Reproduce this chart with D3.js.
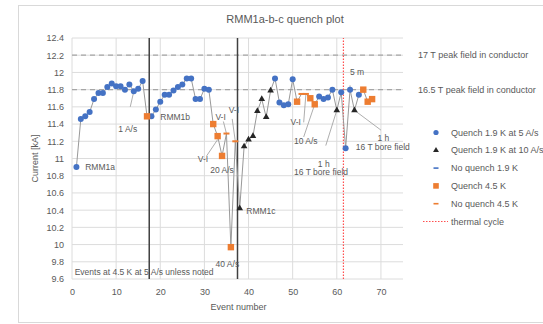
<!DOCTYPE html>
<html>
<head>
<meta charset="utf-8">
<script src="https://cdn.jsdelivr.net/npm/d3@7"></script>
<style>
	body { margin: 0; background: #fff; }
	text { font-family: "Liberation Sans", Arial, sans-serif; fill: #595959; }
</style>
</head>
<body>
<div id="chart"></div>
<script>
// values: [event number, current kA]
var quench19at5 = [
	[1, 10.90], [2, 11.46], [3, 11.49], [4, 11.54], [5, 11.69], [6, 11.76], [7, 11.76], [8, 11.83],
	[9, 11.87], [10, 11.84], [11, 11.84], [12, 11.80], [13, 11.86], [14, 11.78], [15, 11.81], [16, 11.90],
	[18, 11.49], [19, 11.57], [20, 11.66], [21, 11.74], [22, 11.74], [23, 11.79], [24, 11.83], [25, 11.86],
	[26, 11.93], [27, 11.93], [28, 11.69], [29, 11.69], [30, 11.81], [31, 11.80],
	[46, 11.93], [47, 11.65], [48, 11.62], [49, 11.63], [50, 11.92],
	[56, 11.72], [57, 11.69], [58, 11.71], [59, 11.80], [61, 11.77], [62, 11.12], [63, 11.80], [65, 11.74]
];
var quench19at10 = [
	[38, 10.42], [39, 11.14], [40, 11.22], [41, 11.26], [42, 11.55], [43, 11.69], [44, 11.48], [45, 11.79],
	[60, 11.56], [64, 11.56]
];
var noQuench19 = [];
var quench45 = [
	[17, 11.49], [32, 11.40], [33, 11.26], [34, 11.03], [36, 9.97], [51, 11.66], [54, 11.70], [55, 11.63],
	[66, 11.80], [67, 11.66], [68, 11.69]
];
var noQuench45 = [[35, 11.29], [37, 11.20], [52, 11.75], [53, 11.75]];

var magnetChanges = [17.5, 37.5];
var thermalCycles = [61.5];
var fieldLines = [12.2, 11.8];
var fieldLabels = ["17 T peak field in conductor", "16.5 T peak field in conductor"];
var xTicks = [0, 10, 20, 30, 40, 50, 60, 70];
var yTicks = [9.6, 9.8, 10, 10.2, 10.4, 10.6, 10.8, 11, 11.2, 11.4, 11.6, 11.8, 12, 12.2, 12.4];

var blue = "#4472c4", orange = "#ed7d31", dark = "#262626", red = "#ff4f4f";

var width = 543, height = 324;
var margin = {left: 72, right: 140, top: 38, bottom: 45};

var svg = d3.select("#chart").append("svg")
	.attr("width", width)
	.attr("height", height);

// chart border
svg.append("rect")
	.attr("x", 18.5).attr("y", 5.5)
	.attr("width", 530).attr("height", 317)
	.attr("fill", "none").attr("stroke", "#d9d9d9");

var x = d3.scaleLinear().domain([0, 75]).range([margin.left, width - margin.right]);
var y = d3.scaleLinear().domain([9.6, 12.4]).range([height - margin.bottom, margin.top]);

// gridlines
svg.append("g").selectAll("line").data(yTicks).enter().append("line")
	.attr("x1", x(0)).attr("x2", x(75))
	.attr("y1", function (d) { return y(d); }).attr("y2", function (d) { return y(d); })
	.attr("stroke", "#dcdcdc").attr("stroke-width", 1);
svg.append("g").selectAll("line").data(xTicks).enter().append("line")
	.attr("x1", function (d) { return x(d); }).attr("x2", function (d) { return x(d); })
	.attr("y1", y(9.6)).attr("y2", y(12.4))
	.attr("stroke", "#dcdcdc").attr("stroke-width", 1);

// axes (labels only)
var xAxis = svg.append("g")
	.attr("transform", "translate(0," + (y(9.6) + 4) + ")")
	.call(d3.axisBottom(x).tickValues(xTicks).tickSize(0).tickPadding(6));
var yAxis = svg.append("g")
	.attr("transform", "translate(" + (x(0) - 8) + ",0)")
	.call(d3.axisLeft(y).tickValues(yTicks).tickSize(0).tickPadding(0).tickFormat(d3.format("")));
[xAxis, yAxis].forEach(function (a) {
	a.select(".domain").remove();
	a.selectAll("text").style("font-size", "9px").style("fill", "#595959")
		.style("font-family", "Liberation Sans, Arial, sans-serif");
});

// peak field dashed lines
svg.append("g").selectAll("line").data(fieldLines).enter().append("line")
	.attr("x1", x(0)).attr("x2", x(75))
	.attr("y1", function (d) { return y(d); }).attr("y2", function (d) { return y(d); })
	.attr("stroke", "#a6a6a6").attr("stroke-width", 1.3).attr("stroke-dasharray", "5,4");
svg.append("g").selectAll("text").data(fieldLines).enter().append("text")
	.attr("x", 418).attr("y", function (d) { return y(d) + 3; })
	.style("font-size", "9px")
	.text(function (d, i) { return fieldLabels[i]; });

// magnet changes and thermal cycle
svg.append("g").selectAll("line").data(magnetChanges).enter().append("line")
	.attr("x1", function (d) { return x(d); }).attr("x2", function (d) { return x(d); })
	.attr("y1", y(9.6)).attr("y2", y(12.4))
	.attr("stroke", "#404040").attr("stroke-width", 1.5);
svg.append("g").selectAll("line").data(thermalCycles).enter().append("line")
	.attr("x1", function (d) { return x(d); }).attr("x2", function (d) { return x(d); })
	.attr("y1", y(9.6)).attr("y2", y(12.4))
	.attr("stroke", red).attr("stroke-width", 1.2).attr("stroke-dasharray", "1.5,1.5");

// grey line joining all events in order
var all = quench19at5.concat(quench19at10, noQuench19, quench45, noQuench45)
	.sort(function (a, b) { return a[0] - b[0]; });
var line = d3.line()
	.x(function (d) { return x(d[0]); })
	.y(function (d) { return y(d[1]); });
svg.append("path").datum(all)
	.attr("d", line)
	.attr("fill", "none").attr("stroke", "#999999").attr("stroke-width", 1);

// annotation leader lines and texts
var leaders = [
	[[13.2, 11.6], [14, 11.78]],
	[[34.3, 11.43], [35, 11.29]],
	[[36.3, 11.46], [37, 11.20]],
	[[30.5, 11.03], [33, 11.22]],
	[[52.5, 11.42], [53, 11.75]],
	[[52.5, 11.25], [55, 11.63]],
	[[57.5, 11.15], [60, 11.56]],
	[[63, 11.85], [63, 11.80]],
	[[70, 11.33], [64, 11.56]]
];
svg.append("g").selectAll("line").data(leaders).enter().append("line")
	.attr("x1", function (d) { return x(d[0][0]); }).attr("y1", function (d) { return y(d[0][1]); })
	.attr("x2", function (d) { return x(d[1][0]); }).attr("y2", function (d) { return y(d[1][1]); })
	.attr("stroke", "#999999").attr("stroke-width", 0.8);

var notes = [
	["RMM1a", 3, 10.9, "start"],
	["1 A/s", 10.5, 11.34, "start"],
	["RMM1b", 20, 11.48, "start"],
	["V-I", 32.5, 11.48, "start"],
	["V-I", 35.5, 11.56, "start"],
	["V-I", 28.5, 11.0, "start"],
	["20 A/s", 34, 10.87, "middle"],
	["40 A/s", 35.2, 9.78, "middle"],
	["RMM1c", 39.5, 10.39, "start"],
	["V-I", 49.5, 11.42, "start"],
	["10 A/s", 50.3, 11.2, "start"],
	["1 h", 55.7, 10.94, "start"],
	["16 T bore field", 50.3, 10.84, "start"],
	["5 m", 63, 12.0, "start"],
	["1 h", 69.2, 11.24, "start"],
	["16 T bore field", 64.3, 11.13, "start"],
	["Events at 4.5 K at 5 A/s unless noted", 0.6, 9.68, "start"]
];
svg.append("g").selectAll("text").data(notes).enter().append("text")
	.attr("x", function (d) { return x(d[1]); })
	.attr("y", function (d) { return y(d[2]) + 3; })
	.attr("text-anchor", function (d) { return d[3]; })
	.style("font-size", "8.5px")
	.text(function (d) { return d[0]; });

// markers
var tri = d3.symbol().type(d3.symbolTriangle).size(19);
svg.append("g").selectAll("circle").data(quench19at5).enter().append("circle")
	.attr("cx", function (d) { return x(d[0]); }).attr("cy", function (d) { return y(d[1]); })
	.attr("r", 3).attr("fill", blue);
svg.append("g").selectAll("path").data(quench19at10).enter().append("path")
	.attr("d", tri)
	.attr("transform", function (d) { return "translate(" + x(d[0]) + "," + y(d[1]) + ")"; })
	.attr("fill", dark);
svg.append("g").selectAll("rect").data(quench45).enter().append("rect")
	.attr("x", function (d) { return x(d[0]) - 3.2; }).attr("y", function (d) { return y(d[1]) - 3.2; })
	.attr("width", 6.4).attr("height", 6.4).attr("fill", orange);
svg.append("g").selectAll("rect").data(noQuench19).enter().append("rect")
	.attr("x", function (d) { return x(d[0]) - 3; }).attr("y", function (d) { return y(d[1]) - 1; })
	.attr("width", 6).attr("height", 2).attr("fill", blue);
svg.append("g").selectAll("rect").data(noQuench45).enter().append("rect")
	.attr("x", function (d) { return x(d[0]) - 3; }).attr("y", function (d) { return y(d[1]) - 1; })
	.attr("width", 6).attr("height", 2).attr("fill", orange);

// title and axis titles
svg.append("text").attr("x", 285).attr("y", 23).attr("text-anchor", "middle")
	.style("font-size", "11px").text("RMM1a-b-c quench plot");
svg.append("text").attr("x", x(37.5) + 1).attr("y", 310).attr("text-anchor", "middle")
	.style("font-size", "9px").text("Event number");
svg.append("text")
	.attr("transform", "translate(38," + ((y(9.6) + y(12.4)) / 2) + ") rotate(-90)")
	.attr("text-anchor", "middle")
	.style("font-size", "9px").text("Current [kA]");

// legend
var legendItems = ["Quench 1.9 K at 5 A/s", "Quench 1.9 K at 10 A/s", "No quench 1.9 K", "Quench 4.5 K", "No quench 4.5 K", "thermal cycle"];
var legend = svg.append("g").selectAll("g").data(legendItems).enter().append("g")
	.attr("transform", function (d, i) { return "translate(436," + (132.5 + i * 17.8) + ")"; });
legend.append("text").attr("x", 15).attr("y", 3).style("font-size", "9px")
	.text(function (d) { return d; });
legend.each(function (d, i) {
	var g = d3.select(this);
	if (i === 0) g.append("circle").attr("r", 2.6).attr("fill", blue);
	if (i === 1) g.append("path").attr("d", d3.symbol().type(d3.symbolTriangle).size(15)).attr("fill", dark);
	if (i === 2) g.append("rect").attr("x", -2.5).attr("y", -0.8).attr("width", 5).attr("height", 1.6).attr("fill", blue);
	if (i === 3) g.append("rect").attr("x", -2.8).attr("y", -2.8).attr("width", 5.6).attr("height", 5.6).attr("fill", orange);
	if (i === 4) g.append("rect").attr("x", -2.5).attr("y", -0.8).attr("width", 5).attr("height", 1.6).attr("fill", orange);
	if (i === 5) g.append("line").attr("x1", -13).attr("x2", 12).attr("y1", 0).attr("y2", 0)
		.attr("stroke", red).attr("stroke-width", 1.2).attr("stroke-dasharray", "1.5,1.5");
});
</script>
</body>
</html>
